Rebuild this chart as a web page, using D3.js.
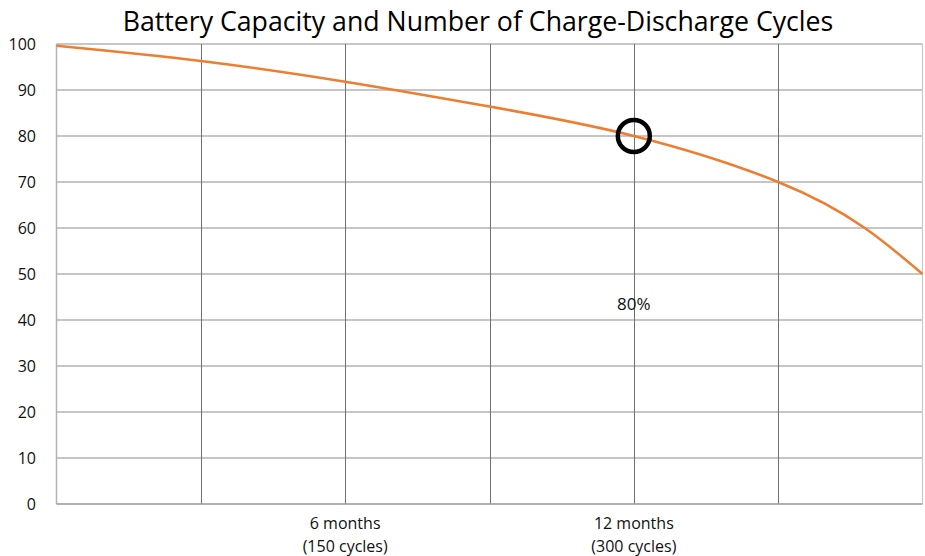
<!DOCTYPE html>
<html lang="en">
<head>
  <meta charset="UTF-8" />
  <title>Battery Capacity</title>
  <script src="https://d3js.org/d3.v7.min.js"></script>
  <style>
    body { margin: 0; background: #fff; }
    svg { display: block; font-family: "Open Sans", Lato, sans-serif; }
  </style>
</head>
<body>
  <svg width="925" height="556"></svg>
  <script>
    // capacity (%) vs charge cycles
    const cycles = [0, 75, 150, 225, 300, 375, 420, 450];
    const capacity = [99.6, 96.3, 91.8, 86.4, 80, 70, 60, 50];
    const yTicks = [0, 10, 20, 30, 40, 50, 60, 70, 80, 90, 100];
    const xGrid = [75, 150, 225, 300, 375];
    const xLabels = [
      { at: 150, lines: ["6 months", "(150 cycles)"] },
      { at: 300, lines: ["12 months", "(300 cycles)"] }
    ];
    const marker = { at: 300, value: 80, label: "80%" };

    const svg = d3.select("svg");
    const x = d3.scaleLinear().domain([0, 450]).range([56.5, 922.5]);
    const y = d3.scaleLinear().domain([0, 100]).range([504, 44]);

    // horizontal grid
    svg.append("g")
      .selectAll("line")
      .data(yTicks.filter(d => d > 0))
      .join("line")
      .attr("x1", x(0)).attr("x2", x(450))
      .attr("y1", d => y(d)).attr("y2", d => y(d))
      .attr("stroke", "#b3b3b3").attr("stroke-width", 1.3);

    // vertical grid
    svg.append("g")
      .selectAll("line")
      .data(xGrid)
      .join("line")
      .attr("x1", d => Math.round(x(d)) + 0.5).attr("x2", d => Math.round(x(d)) + 0.5)
      .attr("y1", y(100)).attr("y2", y(0))
      .attr("stroke", "#707070").attr("stroke-width", 1);

    // frame: left axis, right edge, bottom axis
    svg.append("line")
      .attr("x1", x(0)).attr("x2", x(0)).attr("y1", y(100)).attr("y2", y(0))
      .attr("stroke", "#b3b3b3").attr("stroke-width", 1.5);
    svg.append("line")
      .attr("x1", x(450)).attr("x2", x(450)).attr("y1", y(100)).attr("y2", y(0))
      .attr("stroke", "#c8c8c8").attr("stroke-width", 1.2);
    svg.append("line")
      .attr("x1", x(0)).attr("x2", x(450)).attr("y1", y(0)).attr("y2", y(0))
      .attr("stroke", "#999").attr("stroke-width", 1.5);

    // y tick labels
    svg.append("g")
      .selectAll("text")
      .data(yTicks)
      .join("text")
      .attr("x", 36)
      .attr("y", d => y(d) + 6)
      .attr("text-anchor", "end")
      .attr("font-size", 16)
      .attr("fill", "#111")
      .text(d => d);

    // x labels
    const xl = svg.append("g")
      .selectAll("text")
      .data(xLabels)
      .join("text")
      .attr("text-anchor", "middle")
      .attr("font-size", 16)
      .attr("fill", "#111");
    xl.selectAll("tspan")
      .data(d => d.lines.map((t, i) => ({ t, i, at: d.at })))
      .join("tspan")
      .attr("x", d => x(d.at))
      .attr("y", d => 529 + d.i * 23)
      .text(d => d.t);

    // curve
    const pts = cycles.map((c, i) => [c, capacity[i]]);
    svg.append("path")
      .datum(pts)
      .attr("fill", "none")
      .attr("stroke", "#ED7D31")
      .attr("stroke-width", 2.5)
      .attr("d", d3.line().x(d => x(d[0])).y(d => y(d[1])).curve(d3.curveNatural));

    // 80% marker
    svg.append("circle")
      .attr("cx", x(marker.at)).attr("cy", y(marker.value))
      .attr("r", 16)
      .attr("fill", "none")
      .attr("stroke", "#000")
      .attr("stroke-width", 4.5);
    svg.append("text")
      .attr("x", x(marker.at))
      .attr("y", 310)
      .attr("text-anchor", "middle")
      .attr("font-size", 17)
      .attr("fill", "#111")
      .text(marker.label);

    // title
    svg.append("text")
      .attr("x", 478)
      .attr("y", 31)
      .attr("text-anchor", "middle")
      .attr("font-size", 26.7)
      .attr("fill", "#000")
      .text("Battery Capacity and Number of Charge-Discharge Cycles");
  </script>
</body>
</html>
